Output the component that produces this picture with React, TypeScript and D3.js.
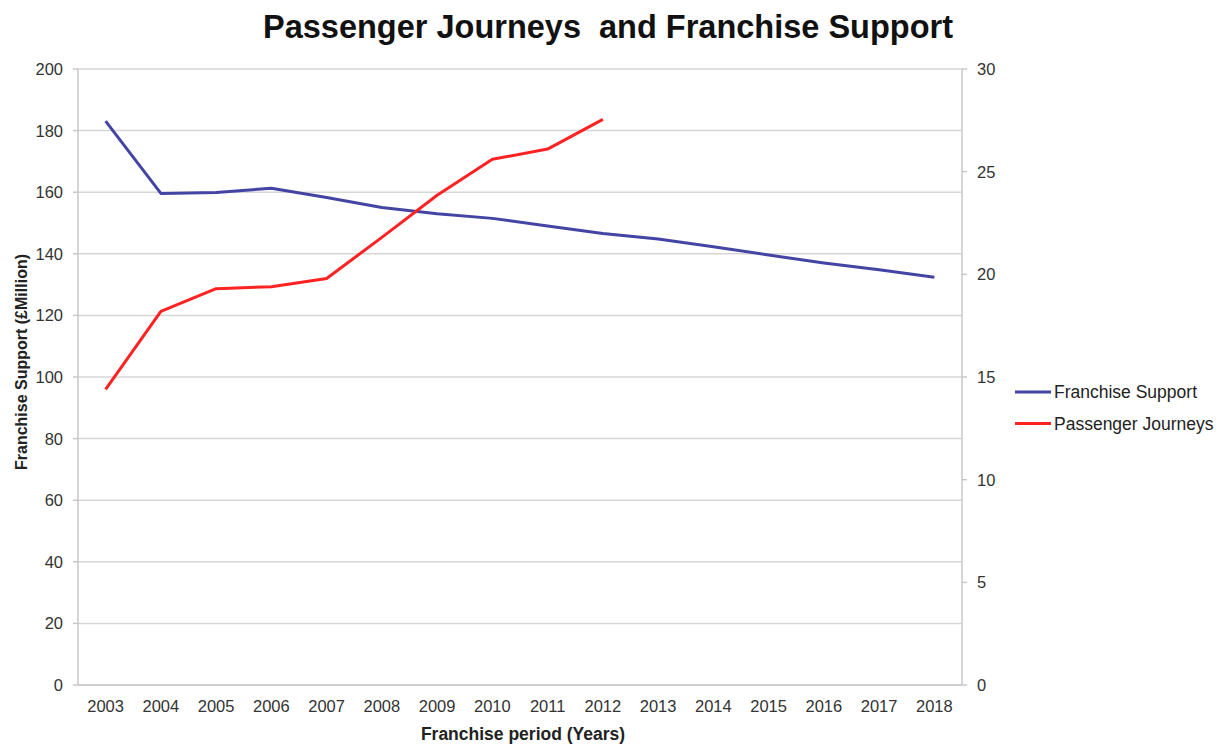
import React from "react";
import * as d3 from "d3";

const years = ["2003","2004","2005","2006","2007","2008","2009","2010","2011","2012","2013","2014","2015","2016","2017","2018"];
const franchiseSupport = [183.1, 159.6, 159.9, 161.3, 158.3, 155.0, 153.0, 151.5, 149.0, 146.6, 144.8, 142.3, 139.6, 137.0, 134.8, 132.4];
const passengerJourneys = [14.4, 18.2, 19.3, 19.4, 19.8, 21.8, 23.85, 25.6, 26.1, 27.55];
const leftTicks = [0, 20, 40, 60, 80, 100, 120, 140, 160, 180, 200];
const rightTicks = [0, 5, 10, 15, 20, 25, 30];
const seriesNames = ["Franchise Support", "Passenger Journeys"];
const seriesColors = ["#4444a4", "#ff2222"];

const W = 1221, H = 745;
const plot = { left: 78, right: 962, top: 69, bottom: 685 };
const FONT = "'Liberation Sans', Arial, sans-serif";

export default function App() {
  const x = d3.scaleBand<string>().domain(years).range([plot.left, plot.right]).padding(0);
  const cx = (y: string) => (x(y) as number) + x.bandwidth() / 2;
  const yL = d3.scaleLinear().domain([0, 200]).range([plot.bottom, plot.top]);
  const yR = d3.scaleLinear().domain([0, 30]).range([plot.bottom, plot.top]);

  const lineL = d3.line<number>().x((_, i) => cx(years[i])).y((d) => yL(d));
  const lineR = d3.line<number>().x((_, i) => cx(years[i])).y((d) => yR(d));

  return (
    <svg width={W} height={H} style={{ position: "absolute", left: 0, top: 0, background: "#fff" }} fontFamily={FONT}>
      <rect x={0} y={0} width={W} height={H} fill="#fff" />
      <text x={608} y={38} textAnchor="middle" fontSize={32.5} fontWeight="bold" fill="#111" style={{ whiteSpace: "pre" }}>
        {"Passenger Journeys  and Franchise Support"}
      </text>
      {/* gridlines */}
      {leftTicks.map((t) => (
        <line key={"g" + t} x1={plot.left} x2={plot.right} y1={yL(t)} y2={yL(t)} stroke="#d6d6d6" strokeWidth={1.5} />
      ))}
      {/* axes */}
      <line x1={plot.left} x2={plot.left} y1={plot.top} y2={plot.bottom} stroke="#c8c8c8" strokeWidth={1.5} />
      <line x1={plot.right} x2={plot.right} y1={plot.top} y2={plot.bottom} stroke="#c8c8c8" strokeWidth={1.5} />
      <line x1={plot.left} x2={plot.right} y1={plot.bottom} y2={plot.bottom} stroke="#c8c8c8" strokeWidth={1.5} />
      {leftTicks.map((t) => (
        <g key={"l" + t}>
          <line x1={plot.left - 5} x2={plot.left} y1={yL(t)} y2={yL(t)} stroke="#c8c8c8" strokeWidth={1.5} />
          <text x={63} y={yL(t) + 6} textAnchor="end" fontSize={16.5} fill="#333">{t}</text>
        </g>
      ))}
      {rightTicks.map((t) => (
        <g key={"r" + t}>
          <line x1={plot.right} x2={plot.right + 5} y1={yR(t)} y2={yR(t)} stroke="#c8c8c8" strokeWidth={1.5} />
          <text x={977} y={yR(t) + 6} textAnchor="start" fontSize={16.5} fill="#333">{t}</text>
        </g>
      ))}
      {years.map((y) => (
        <text key={"x" + y} x={cx(y)} y={712} textAnchor="middle" fontSize={16.5} fill="#333">{y}</text>
      ))}
      <text x={523} y={740} textAnchor="middle" fontSize={17.5} fontWeight="bold" fill="#222">Franchise period (Years)</text>
      <text transform={`translate(27, 362) rotate(-90)`} textAnchor="middle" fontSize={16} fontWeight="bold" fill="#222">
        Franchise Support (£Million)
      </text>
      {/* series */}
      <path d={lineL(franchiseSupport) || ""} fill="none" stroke={seriesColors[0]} strokeWidth={3} strokeLinejoin="round" />
      <path d={lineR(passengerJourneys) || ""} fill="none" stroke={seriesColors[1]} strokeWidth={3} strokeLinejoin="round" />
      {/* legend */}
      {seriesNames.map((n, i) => (
        <g key={n}>
          <line x1={1015} x2={1051} y1={392 + i * 31.5} y2={392 + i * 31.5} stroke={seriesColors[i]} strokeWidth={3} />
          <text x={1054} y={392 + i * 31.5 + 6} fontSize={17.5} fill="#222">{n}</text>
        </g>
      ))}
    </svg>
  );
}
